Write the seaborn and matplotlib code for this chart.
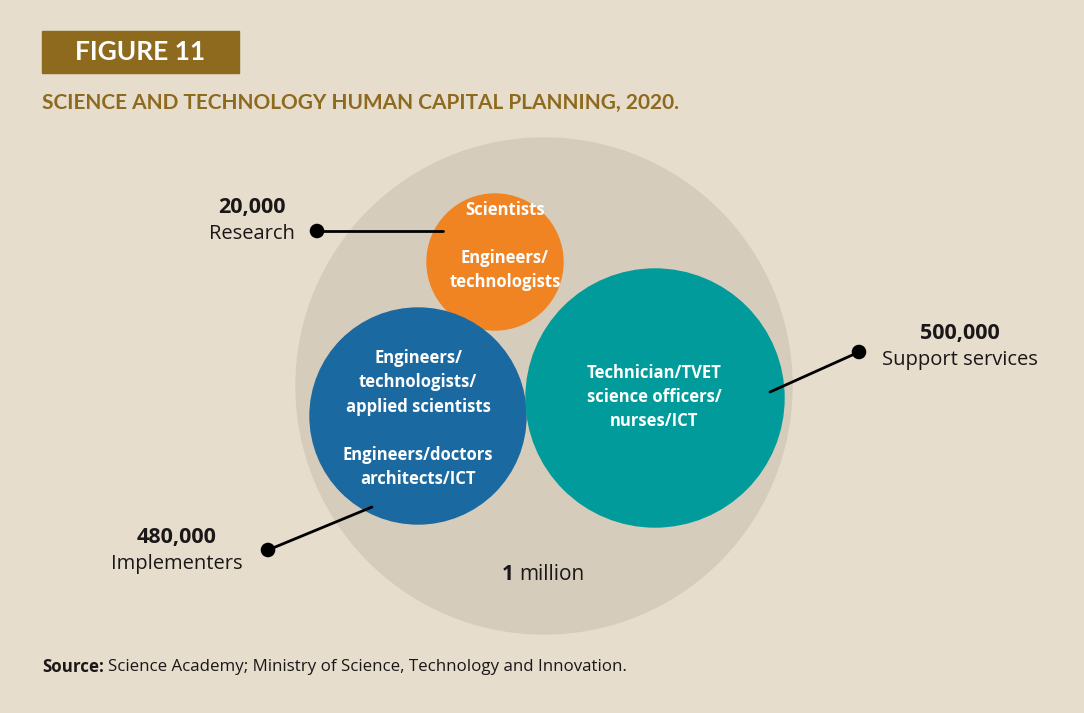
import matplotlib.pyplot as plt
from matplotlib.patches import Circle, Rectangle
import pandas as pd
import seaborn as sns

sns.set_theme(style="white")
plt.rcParams['font.family'] = ['Open Sans', 'DejaVu Sans']

BG = "#E6DDCC"
GOLD = "#8E6A1F"
INK = "#1b1718"
HEAD_FONT = ["Lato", "DejaVu Sans"]

# data
groups = ["Research", "Implementers", "Support services"]
workers = [20000, 480000, 500000]
total_label = "million"
roles = [
    ["Scientists", "", "Engineers/", "technologists"],
    ["Engineers/", "technologists/", "applied scientists", "", "Engineers/doctors", "architects/ICT"],
    ["Technician/TVET", "science officers/", "nurses/ICT"],
]
colors = ["#F08423", "#1A69A0", "#009B9A"]

# layout (pixel coords)
centers = [(495, 262), (418, 416), (655, 398)]
radii = [68, 108, 129]
text_top = [(505, 210), (418, 358), (654, 373)]
line_gap = [24, 24.3, 24]
dots = [(317, 231), (268, 550), (859, 352)]
line_ends = [(443, 231), (372, 507), (770, 392)]
label_pos = [(252, 220), (177, 550), (960, 346)]

fig = plt.figure(figsize=(10.84, 7.13), dpi=100)
fig.patch.set_facecolor(BG)
ax = fig.add_axes([0, 0, 1, 1])
ax.set_xlim(0, 1084)
ax.set_ylim(713, 0)
ax.axis("off")

# header
ax.add_patch(Rectangle((42, 31), 197, 42, color=GOLD))
ax.text(140, 52, "FIGURE 11", color="white", fontsize=19, fontweight="bold",
        ha="center", va="center", family=HEAD_FONT)
ax.text(42, 103, "SCIENCE AND TECHNOLOGY HUMAN CAPITAL PLANNING, 2020.", color=GOLD,
        fontsize=15, fontweight="bold", ha="left", va="center", family=HEAD_FONT)

# big circle
ax.add_patch(Circle((544, 386), 248, color="#D5CCBC", zorder=1))

for (cx, cy), r, c, lines, (tx, ty), gap in zip(centers, radii, colors, roles, text_top, line_gap):
    ax.add_patch(Circle((cx, cy), r, color=c, zorder=2))
    for i, ln in enumerate(lines):
        ax.text(tx, ty + i * gap, ln, color="white", fontsize=12, fontweight="bold",
                ha="center", va="center", zorder=3)

# callouts
for (dx, dy), (ex, ey) in zip(dots, line_ends):
    ax.plot([dx, ex], [dy, ey], color="black", lw=2, zorder=4)
dots_df = pd.DataFrame({"x": [d[0] for d in dots], "y": [d[1] for d in dots]})
sns.scatterplot(data=dots_df, x="x", y="y", color="black", s=110, ax=ax, zorder=5,
                edgecolor="none", legend=False)

for (lx, ly), g, w in zip(label_pos, groups, workers):
    ax.text(lx, ly - 12, f"{w:,}", fontsize=15.5, fontweight="bold", ha="center",
            va="center", color=INK)
    ax.text(lx, ly + 14, g, fontsize=14.5, ha="center", va="center", color=INK)

# total
t1 = ax.text(502, 575, "1", fontsize=15, fontweight="bold", ha="left", va="center",
             color=INK, zorder=3)
fig.canvas.draw()
bb = t1.get_window_extent()
x1 = ax.transData.inverted().transform((bb.x1, 0))[0]
ax.text(x1 + 5, 575, total_label, fontsize=15, ha="left", va="center", color=INK, zorder=3)

# source
s1 = ax.text(42, 667, "Source:", fontsize=12.2, fontweight="bold", ha="left", va="center",
             color=INK)
fig.canvas.draw()
bb = s1.get_window_extent()
x1 = ax.transData.inverted().transform((bb.x1, 0))[0]
ax.text(x1 + 4, 667, "Science Academy; Ministry of Science, Technology and Innovation.",
        fontsize=12.2, ha="left", va="center", color=INK)

fig.savefig("out.png", dpi=100, facecolor=BG)
